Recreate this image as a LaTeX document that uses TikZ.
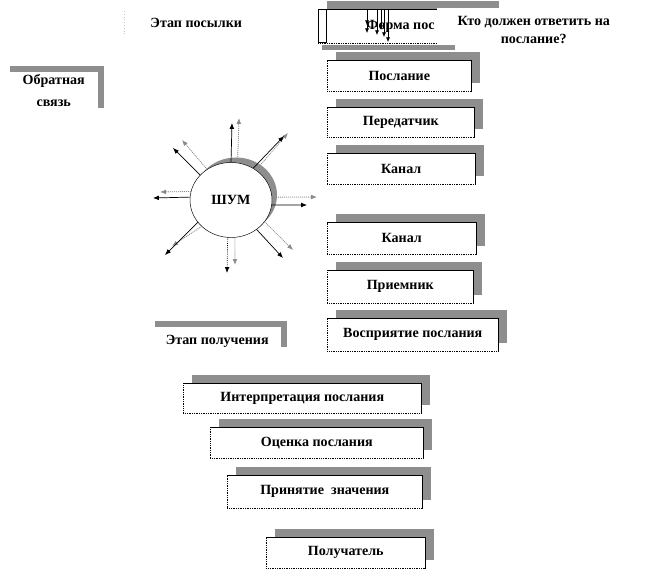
\documentclass[tikz,border=0pt]{standalone}
\usepackage{fontspec}
\setmainfont{Liberation Serif}
\usetikzlibrary{positioning, arrows.meta, shapes.geometric, shadows, calc}
\definecolor{cShade}{HTML}{8E8E8E}
\definecolor{cRay}{HTML}{8A8A8A}
\tikzset{
  txt/.style      ={font=\bfseries\fontsize{12}{15}\selectfont, align=center, inner sep=1pt},
  stagebox/.style ={txt, draw=black, densely dotted, fill=white, line width=0.5pt,
                    anchor=north west,
                    drop shadow={shadow xshift=0.25cm, shadow yshift=0.24cm,
                                 fill=cShade, opacity=1}},
  edgeline/.style ={draw=black, line width=0.6pt},
  corner/.style   ={draw=cShade, line width=0.19cm, line join=miter},
  blackray/.style ={-{Latex[length=5pt,width=4pt]}, line width=0.6pt, black},
  dotray/.style   ={blackray, densely dotted},
  grayray/.style  ={-{Latex[length=5pt,width=4pt]}, line width=0.7pt, draw=cRay,
                    fill=cRay, densely dotted},
  tinyray/.style  ={-{Latex[length=4pt,width=3.5pt]}, line width=0.5pt, black},
}
\begin{document}
\begin{tikzpicture}[x=0.03cm, y=-0.03cm]
  \useasboundingbox (0,0) rectangle (659,573);

  % ============================================================
  % TOP ROW: stage label, form box, question
  % ============================================================
  \node[txt, anchor=north west, minimum width=4.32cm, minimum height=0.72cm]
       (sendstage) at (124,11) {Этап посылки};
  \draw[gray!45, dotted] (sendstage.north west) -- (sendstage.south west);

  \node[stagebox, minimum width=5.16cm, minimum height=1.02cm] (formbox) at (318,9) {};
  \draw[edgeline] (formbox.north west) -- (formbox.north east) -- (formbox.south east);
  \draw[line width=0.5pt] (formbox.north west) rectangle ++(8,33);
  \node[txt, anchor=east] (formlabel) at (436,26) {Форма пос};
  \foreach \dx/\len in {49/16, 49/24, 59/26, 63/21, 66/28, 70/33}
    \draw[tinyray] ([xshift=\dx*0.03cm]formbox.north west) -- ++(0,\len);

  \node[txt, fill=white, anchor=north west, minimum width=5.79cm,
        minimum height=1.32cm] (whoanswers) at (437,8)
       {Кто должен ответить на\\послание?};
  \fill[cShade] (322,45) rectangle (455,50);

  % ============================================================
  % FEEDBACK + RECEIVING STAGE (gray corners)
  % ============================================================
  \node[txt, anchor=north west, minimum width=2.61cm, minimum height=1.08cm]
       (feedback) at (10,72) {Обратная\\[4pt]связь};
  \draw[corner] ([yshift=0.09cm]feedback.north west)
             -- ([xshift=0.1cm, yshift=0.09cm]feedback.north east)
             -- ([xshift=0.1cm]feedback.south east);

  \node[txt, anchor=north west, minimum width=3.72cm, minimum height=0.84cm]
       (recvstage) at (155,327) {Этап получения};
  \draw[corner] ([yshift=0.09cm]recvstage.north west)
             -- ([xshift=0.13cm, yshift=0.09cm]recvstage.north east)
             -- ([xshift=0.13cm, yshift=0.24cm]recvstage.south east);

  % ============================================================
  % RIGHT COLUMN: sending chain
  % ============================================================
  \node[stagebox, minimum width=4.32cm, minimum height=0.93cm] (message)     at (327,60)  {Послание};
  \node[stagebox, minimum width=4.41cm, minimum height=0.90cm] (transmitter) at (327,107) {Передатчик};
  \node[stagebox, minimum width=4.44cm, minimum height=0.93cm] (channelA)    at (327,153) {Канал};
  \node[stagebox, minimum width=4.47cm, minimum height=0.96cm] (channelB)    at (327,222) {Канал};
  \node[stagebox, minimum width=4.38cm, minimum height=0.99cm] (receiver)    at (327,270) {Приемник};
  \node[stagebox, minimum width=5.13cm, minimum height=0.99cm] (perception)  at (327,318) {Восприятие послания};

  % ============================================================
  % BOTTOM: receiving chain
  % ============================================================
  \node[stagebox, minimum width=7.14cm, minimum height=0.90cm] (interpretation) at (183,383) {Интерпретация послания};
  \node[stagebox, minimum width=6.39cm, minimum height=0.93cm] (evaluation)     at (210,427) {Оценка послания};
  \node[stagebox, minimum width=5.85cm, minimum height=0.99cm] (acceptance)     at (227,475) {Принятие~ значения};
  \node[stagebox, minimum width=4.77cm, minimum height=0.93cm] (recipient)      at (266,537) {Получатель};

  \foreach \n in {message, transmitter, channelA, channelB, receiver, perception,
                  interpretation, evaluation, acceptance, recipient}
    \draw[edgeline] (\n.north west) -- (\n.north east) -- (\n.south east);

  % ============================================================
  % NOISE
  % ============================================================
  \node[txt, ellipse, draw=black, line width=0.4pt, fill=white,
        minimum width=2.46cm, minimum height=2.25cm,
        drop shadow={shadow xshift=0.15cm, shadow yshift=0.15cm,
                     fill=cShade, opacity=1}] (shum) at (231,200) {ШУМ};

  % gray rays
  \foreach \a/\x/\y [count=\i] in {80/239/118, 128/182/140, 168/160/192, 50/288/133,
                                   4/317/197, -33/293/250, -84/235/265, -138/172/246}{
    \coordinate (gEnd\i) at (\x,\y);
    \draw[grayray] (shum.\a) -- (gEnd\i);
  }
  % black rays
  \foreach \s/\a/\x/\y [count=\i] in {blackray/90/232/123, blackray/141/173/148,
                                      blackray/176/153/198, blackray/55/284/136,
                                      blackray/-7/307/205, blackray/-49/283/258,
                                      dotray/-95/227/273, blackray/-146/165/255}{
    \coordinate (kEnd\i) at (\x,\y);
    \draw[\s] (shum.\a) -- (kEnd\i);
  }

\end{tikzpicture}
\end{document}
